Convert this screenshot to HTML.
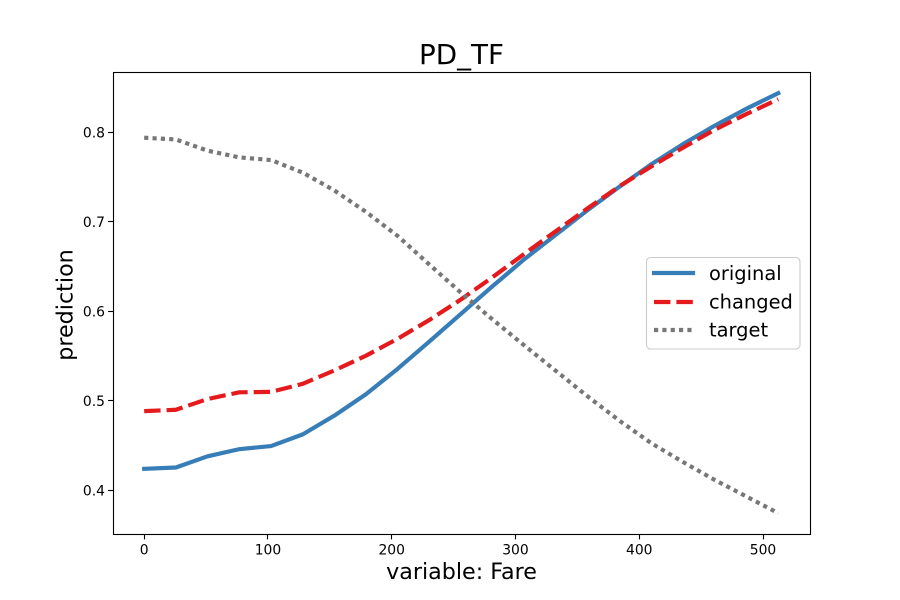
<!DOCTYPE html>
<html>
<head>
<meta charset="utf-8">
<title>PD_TF</title>
<style>
  html, body { margin: 0; padding: 0; background: #fff; }
  svg { display: block; }
  text { font-family: "DejaVu Sans", "Liberation Sans", sans-serif; fill: #000; }
</style>
</head>
<body>
<svg id="chart" xmlns="http://www.w3.org/2000/svg" width="900" height="600" viewBox="0 0 900 600">
  <rect x="0" y="0" width="900" height="600" fill="#ffffff"/>
  <rect x="113" y="72" width="697.5" height="462" fill="#ffffff"/>
  <g id="series" fill="none" stroke-width="4.17"></g>
  <g id="x-ticks"></g>
  <g id="y-ticks"></g>
  <rect x="113.5" y="72.5" width="697" height="462" fill="none" stroke="#000" stroke-width="1.1"/>
  <text x="461.5" y="64" font-size="27.78" text-anchor="middle">PD_TF</text>
  <text x="461.5" y="579" font-size="22.22" text-anchor="middle">variable: Fare</text>
  <text x="0" y="0" transform="translate(72.5 305) rotate(-90)" font-size="22.22" text-anchor="middle">prediction</text>
  <g>
    <rect x="646.5" y="257.5" width="153.5" height="91.5" rx="4" ry="4" fill="#ffffff" fill-opacity="0.8" stroke="#cccccc" stroke-width="1.11"/>
    <line x1="654" y1="273" x2="693" y2="273" stroke="#377eb8" stroke-width="4.17" stroke-linecap="square"/>
    <text x="709" y="280" font-size="19.44">original</text>
    <line x1="654" y1="302" x2="693" y2="302" stroke="#e41a1c" stroke-width="4.17" stroke-dasharray="16.4 6"/>
    <text x="709" y="308.3" font-size="19.44">changed</text>
    <line x1="654" y1="330" x2="693" y2="330" stroke="#777777" stroke-width="4.17" stroke-dasharray="4.17 4.17"/>
    <text x="709" y="336.7" font-size="19.44">target</text>
  </g>
</svg>
<script>
const fareValues = [0, 25.6, 51.2, 76.9, 102.5, 128.1, 153.7, 179.3, 205, 230.6, 256.2, 281.8, 307.4, 333, 358.7, 384.3, 409.9, 435.5, 461.1, 486.7, 512.3];
const originalValues = [0.4240, 0.4255, 0.4380, 0.4460, 0.4495, 0.4625, 0.4835, 0.5075, 0.5360, 0.5665, 0.5975, 0.6285, 0.6585, 0.686, 0.7135, 0.7395, 0.7645, 0.787, 0.8075, 0.8265, 0.8437];
const changedValues = [0.4885, 0.4900, 0.5020, 0.5095, 0.5100, 0.5190, 0.5340, 0.5505, 0.5695, 0.5905, 0.6135, 0.6385, 0.6645, 0.690, 0.7155, 0.740, 0.762, 0.783, 0.803, 0.8205, 0.837];
const targetValues = [0.794, 0.792, 0.7795, 0.772, 0.769, 0.755, 0.735, 0.711, 0.684, 0.652, 0.6205, 0.5905, 0.5615, 0.533, 0.5045, 0.4775, 0.4525, 0.4315, 0.4115, 0.393, 0.3745];
const xTickLabels = [0, 100, 200, 300, 400, 500];
const yTickLabels = [0.4, 0.5, 0.6, 0.7, 0.8];

const SVG_NS = 'http://www.w3.org/2000/svg';
const plot = { left: 112.5, right: 810, top: 72, bottom: 534 };
const xMin = -25.6, xMax = 537.95;
const yMin = 0.3512, yMax = 0.8674;

function xScale(v) { return plot.left + (v - xMin) / (xMax - xMin) * (plot.right - plot.left); }
function yScale(v) { return plot.bottom - (v - yMin) / (yMax - yMin) * (plot.bottom - plot.top); }
function snap(p) { return Math.floor(p) + 0.5; }

function drawSeries(values, name, color, dash, cap) {
  const path = document.createElementNS(SVG_NS, 'path');
  const d = values.map(function (v, i) {
    return (i ? 'L' : 'M') + xScale(fareValues[i]).toFixed(2) + ' ' + yScale(v).toFixed(2);
  }).join(' ');
  path.setAttribute('d', d);
  path.setAttribute('stroke', color);
  path.setAttribute('stroke-linecap', cap);
  path.setAttribute('stroke-linejoin', 'round');
  if (dash) path.setAttribute('stroke-dasharray', dash);
  
  
  document.getElementById('series').appendChild(path);
}

drawSeries(originalValues, 'series-original', '#377eb8', null, 'square');
drawSeries(changedValues, 'series-changed', '#e41a1c', '16.4 6', 'butt');
drawSeries(targetValues, 'series-target', '#777777', '4.17 4.17', 'butt');

xTickLabels.forEach(function (t) {
  const g = document.getElementById('x-ticks');
  const x = snap(xScale(t));
  const line = document.createElementNS(SVG_NS, 'line');
  line.setAttribute('x1', x);
  line.setAttribute('x2', x);
  line.setAttribute('y1', plot.bottom + 0.5);
  line.setAttribute('y2', plot.bottom + 5.4);
  line.setAttribute('stroke', '#000');
  line.setAttribute('stroke-width', '1.1');
  
  
  g.appendChild(line);
  const label = document.createElementNS(SVG_NS, 'text');
  label.setAttribute('x', xScale(t));
  label.setAttribute('y', plot.bottom + 20.3);
  label.setAttribute('font-size', '13.89');
  label.setAttribute('text-anchor', 'middle');
  label.textContent = String(t);
  
  
  g.appendChild(label);
});

yTickLabels.forEach(function (t) {
  const g = document.getElementById('y-ticks');
  const y = snap(yScale(t));
  const line = document.createElementNS(SVG_NS, 'line');
  line.setAttribute('x1', plot.left - 4.4);
  line.setAttribute('x2', plot.left + 0.5);
  line.setAttribute('y1', y);
  line.setAttribute('y2', y);
  line.setAttribute('stroke', '#000');
  line.setAttribute('stroke-width', '1.1');
  
  
  g.appendChild(line);
  const label = document.createElementNS(SVG_NS, 'text');
  label.setAttribute('x', plot.left - 7.5);
  label.setAttribute('y', yScale(t) + 5.1);
  label.setAttribute('font-size', '13.89');
  label.setAttribute('text-anchor', 'end');
  label.textContent = t.toFixed(1);
  
  
  g.appendChild(label);
});
</script>
</body>
</html>
